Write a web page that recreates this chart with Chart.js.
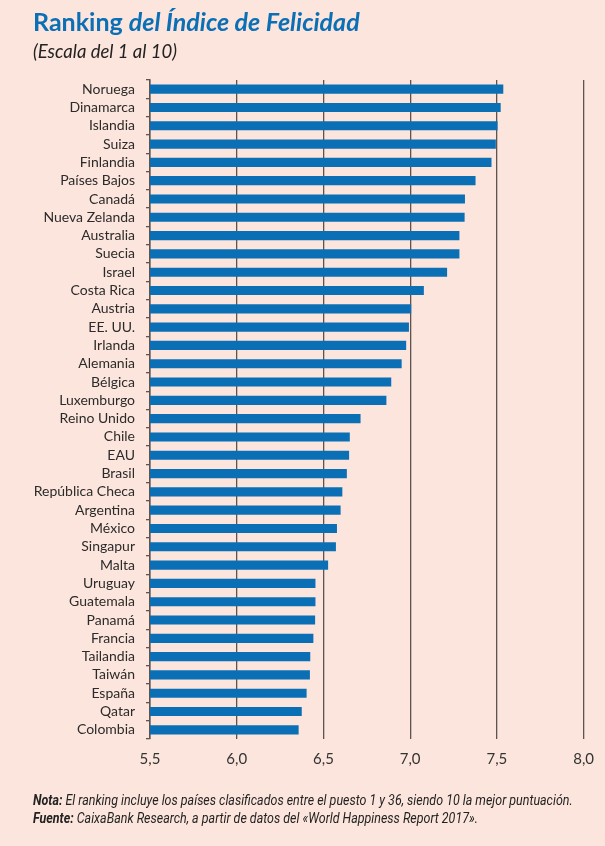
<!DOCTYPE html>
<html><head><meta charset="utf-8">
<script src="https://cdn.jsdelivr.net/npm/chart.js@4.4.1/dist/chart.umd.min.js"></script>
<style>
html,body{margin:0;padding:0;background:#fce5dc;}
#wrap{position:relative;width:605px;height:846px;background:#fce5dc;overflow:hidden;}
#title{position:absolute;left:33px;top:6px;font-family:"Lato";font-weight:bold;font-size:25px;color:#0b6fb6;white-space:nowrap;}
#title i{font-style:italic;}
#sub{position:absolute;left:33px;top:40px;font-family:"Lato";font-style:italic;font-size:18.5px;color:#222;white-space:nowrap;}
#note{position:absolute;left:33px;top:791px;font-family:"Roboto";font-style:italic;font-size:14px;line-height:18px;color:#222;white-space:nowrap;transform:scaleX(0.89);transform-origin:0 0;}
#note b{font-weight:bold;}
canvas{position:absolute;left:0;top:0;}
</style></head>
<body><div id="wrap">
<canvas id="c" width="605" height="846"></canvas>
<div id="title">Ranking <i>del Índice de Felicidad</i></div>
<div id="sub">(Escala del 1 al 10)</div>
<div id="note"><b>Nota:</b> El ranking incluye los países clasificados entre el puesto 1 y 36, siendo 10 la mejor puntuación.<br><b>Fuente:</b> CaixaBank Research, a partir de datos del «World Happiness Report 2017».</div>
</div>
<script>
const countries = ["Noruega","Dinamarca","Islandia","Suiza","Finlandia","Países Bajos","Canadá","Nueva Zelanda","Australia","Suecia","Israel","Costa Rica","Austria","EE. UU.","Irlanda","Alemania","Bélgica","Luxemburgo","Reino Unido","Chile","EAU","Brasil","República Checa","Argentina","México","Singapur","Malta","Uruguay","Guatemala","Panamá","Francia","Tailandia","Taiwán","España","Qatar","Colombia"];
const scores = [7.537,7.522,7.504,7.494,7.469,7.377,7.316,7.314,7.284,7.284,7.213,7.079,7.006,6.993,6.977,6.951,6.891,6.863,6.714,6.652,6.648,6.635,6.609,6.599,6.578,6.572,6.527,6.454,6.454,6.452,6.442,6.424,6.422,6.403,6.375,6.357];
const xTicks = [5.5,6.0,6.5,7.0,7.5,8.0];

const dark = "#5d5350";
new Chart(document.getElementById("c"), {
  type: "bar",
  data: { labels: countries, datasets: [{ data: scores, backgroundColor: "#0b6fb6", borderWidth: 0, barPercentage: 0.5, categoryPercentage: 1.0 }] },
  options: {
    indexAxis: "y",
    responsive: false,
    animation: false,
    events: [],
    layout: { padding: { left: 0, right: 18, top: 80, bottom: 67 } },
    plugins: { legend: { display: false }, tooltip: { enabled: false } },
    scales: {
      x: {
        min: 5.5, max: 8.0, z: 1,
        afterFit: s => { s.height = 40; },
        afterBuildTicks: s => { s.ticks = xTicks.map(v => ({ value: v })); },
        grid: { color: dark, lineWidth: 1.3, drawTicks: false },
        border: { display: false },
        ticks: { padding: 11, color: "#333", font: { family: "Lato", size: 15 }, callback: v => v.toFixed(1).replace(".", ",") }
      },
      y: {
        afterFit: s => { s.width = 150; },
        grid: { drawOnChartArea: false, drawTicks: true, tickLength: 4, color: dark, lineWidth: 1.3 },
        border: { display: true, color: dark, width: 1.5 },
        ticks: { padding: 11, color: "#2b2b2b", autoSkip: false, font: { family: "Lato", size: 14 } }
      }
    }
  }
});
</script>
</body></html>
